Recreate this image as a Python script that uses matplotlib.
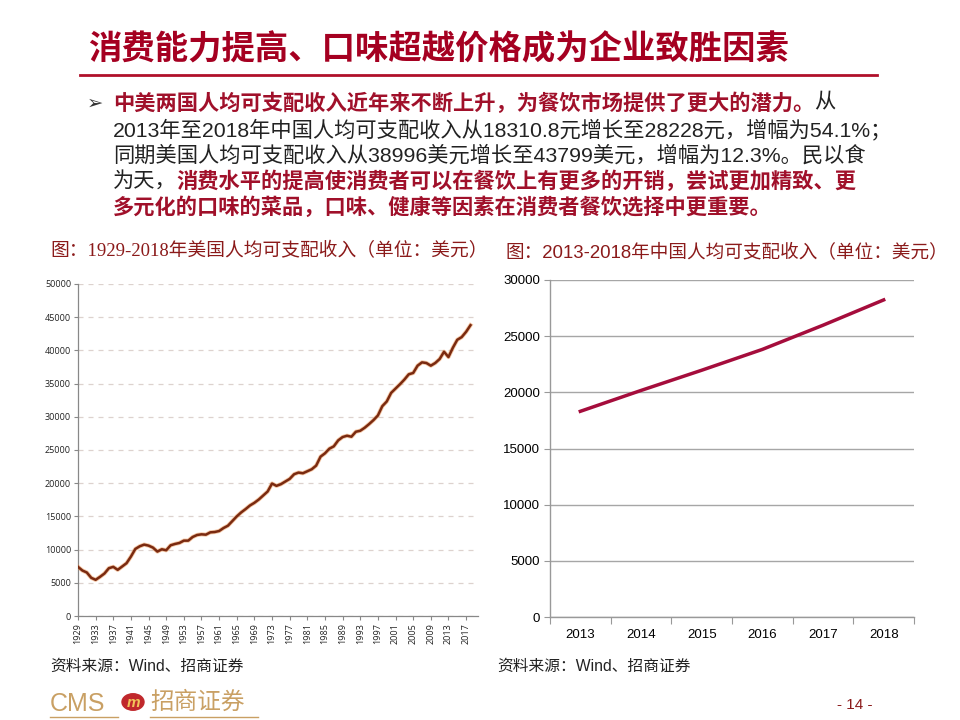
import matplotlib; matplotlib.use('Agg')
import matplotlib.pyplot as plt
from matplotlib.patches import Circle
import numpy as np

plt.rcParams['font.family'] = ['Liberation Sans', 'Noto Sans CJK SC', 'DejaVu Sans']

# US real disposable income per capita, 1929-2018 (USD)
us_years = list(range(1929, 2019))
us_vals = [7400, 6850, 6550, 5750, 5450, 5900, 6400, 7200, 7400, 6950,
           7450, 7950, 8950, 10100, 10500, 10750, 10600, 10300, 9700, 10050,
           9900, 10650, 10850, 11000, 11350, 11350, 11900, 12200, 12300, 12250,
           12600, 12650, 12800, 13250, 13600, 14300, 15000, 15600, 16100, 16650,
           17050, 17550, 18150, 18750, 19950, 19600, 19850, 20250, 20650, 21350,
           21600, 21500, 21800, 22100, 22650, 24000, 24500, 25200, 25550, 26450,
           26950, 27150, 27000, 27750, 27900, 28350, 28900, 29500, 30200, 31600,
           32300, 33600, 34250, 34900, 35600, 36400, 36600, 37700, 38200, 38100,
           37700, 38100, 38700, 39800, 38996, 40400, 41600, 42000, 42800, 43799]
us_ticks = list(range(1929, 2019, 4))

# China disposable income per capita, 2013-2018
cn_years = ['2013', '2014', '2015', '2016', '2017', '2018']
cn_vals = [18310.8, 20167, 21966, 23821, 25974, 28228]

W, H = 960, 720
fig = plt.figure(figsize=(9.6, 7.2), dpi=100)
red = '#A0102A'
ink = '#222222'

# title + rule
fig.text(88/W, 1-50/H, '消费能力提高、口味超越价格成为企业致胜因素', fontsize=24,
         fontweight='bold', color='#A50021', family=['Noto Sans CJK SC'], va='center')
fig.add_artist(plt.Line2D([80/W, 877/W], [1-75/H, 1-75/H], color='#B0102A', lw=2))

# bullet paragraph, drawn run by run
fig.text(87/W, 1-103/H, '➢', fontsize=14, color='#333333', va='center',
         family=['DejaVu Sans'])
lines = [
    [('中美两国人均可支配收入近年来不断上升，为餐饮市场提供了更大的潜力。', red, True), ('从', ink, False)],
    [('2013年至2018年中国人均可支配收入从18310.8元增长至28228元，增幅为54.1%；', ink, False)],
    [('同期美国人均可支配收入从38996美元增长至43799美元，增幅为12.3%。民以食', ink, False)],
    [('为天，', ink, False), ('消费水平的提高使消费者可以在餐饮上有更多的开销，尝试更加精致、更', red, True)],
    [('多元化的口味的菜品，口味、健康等因素在消费者餐饮选择中更重要。', red, True)],
]
rend = fig.canvas.get_renderer()
for i, parts in enumerate(lines):
    x = 113
    y = 103 + i*26
    for txt, col, bold in parts:
        t = fig.text(x/W, 1-y/H, txt, fontsize=15.3, color=col, va='center',
                     fontweight='bold' if bold else 'normal')
        bb = t.get_window_extent(rend)
        x += bb.width

# captions
fig.text(50/W, 1-251/H, '图：1929-2018年美国人均可支配收入（单位：美元）', fontsize=13.5,
         color='#8B1A1A', va='center', family=['Liberation Serif', 'Noto Sans CJK SC'])
fig.text(505/W, 1-252/H, '图：2013-2018年中国人均可支配收入（单位：美元）', fontsize=13.4,
         color='#8B1A1A', va='center')

# left chart: US
ax1 = fig.add_axes([78/W, 1-616/H, 400/W, 332/H])
ax1.plot(us_years, us_vals, color='#E8843A', lw=3, alpha=0.45, zorder=3)
ax1.plot(us_years, us_vals, color='#7A2A10', lw=1.8, zorder=4)
ax1.set_xlim(1929, 2019.7)
ax1.set_ylim(0, 50000)
ax1.set_yticks(range(0, 50001, 5000))
ax1.set_xticks(us_ticks)
ax1.set_xticklabels([str(v) for v in us_ticks], rotation=90, fontsize=6.5, family=['Open Sans'])
for lab in ax1.get_yticklabels():
    lab.set_fontsize(6.5); lab.set_family(['Open Sans'])
ax1.tick_params(axis='both', length=3, width=0.8, color='#888888', pad=2, labelcolor='#222222')
ax1.grid(axis='y', ls=(0, (4, 4)), color='#DDD2CE', lw=0.9, zorder=0)
for s in ['top', 'right']:
    ax1.spines[s].set_visible(False)
for s in ['left', 'bottom']:
    ax1.spines[s].set_color('#888888'); ax1.spines[s].set_linewidth(0.9)

# right chart: China
ax2 = fig.add_axes([550/W, 1-617/H, 364/W, 337/H])
xs = np.arange(len(cn_years))
ax2.plot(xs, cn_vals, color='#A50D3C', lw=2.5, zorder=4)
ax2.set_xlim(-0.5, len(cn_years)-0.5)
ax2.set_ylim(0, 30000)
ax2.set_yticks(range(0, 30001, 5000))
ax2.set_xticks(np.arange(-0.5, len(cn_years)), minor=False)
ax2.set_xticklabels([])
ax2.set_xticks(xs, minor=True)
ax2.set_xticklabels(cn_years, minor=True, fontsize=9.5)
ax2.tick_params(axis='x', which='major', length=5, color='#999999')
ax2.tick_params(axis='x', which='minor', length=0, pad=9)
ax2.tick_params(axis='y', length=4, color='#999999', labelsize=9.5, pad=3)
ax2.grid(axis='y', color='#A6A6A6', lw=1, zorder=0)
for s in ['top', 'right']:
    ax2.spines[s].set_visible(False)
for s in ['left', 'bottom']:
    ax2.spines[s].set_color('#999999'); ax2.spines[s].set_linewidth(1)

# sources
fig.text(50/W, 1-666/H, '资料来源：Wind、招商证券', fontsize=11.3, color=ink, va='center')
fig.text(497/W, 1-666/H, '资料来源：Wind、招商证券', fontsize=11.3, color=ink, va='center')

# footer logo and page number
gold = '#C9A064'
fig.text(50/W, 1-704/H, 'CMS', fontsize=18, color=gold, va='center',
         family=['Liberation Sans Narrow', 'Liberation Sans'])
fig.add_artist(Circle((133/W, 1-702/H), 11/W, transform=fig.transFigure,
                      color='#C0282C', zorder=5))
fig.text(133/W, 1-703/H, 'm', fontsize=11, color='#F2C45A', ha='center', va='center',
         fontweight='bold', fontstyle='italic', zorder=6)
fig.text(150/W, 1-703/H, '招商证券', fontsize=17, color=gold, va='center')
fig.add_artist(plt.Line2D([50/W, 118/W], [1-717/H, 1-717/H], color=gold, lw=1))
fig.add_artist(plt.Line2D([150/W, 258/W], [1-717/H, 1-717/H], color=gold, lw=1))
fig.text(855/W, 1-705/H, '- 14 -', fontsize=11, color='#8B1A1A', ha='center', va='center')

plt.savefig('out.png', dpi=100)
